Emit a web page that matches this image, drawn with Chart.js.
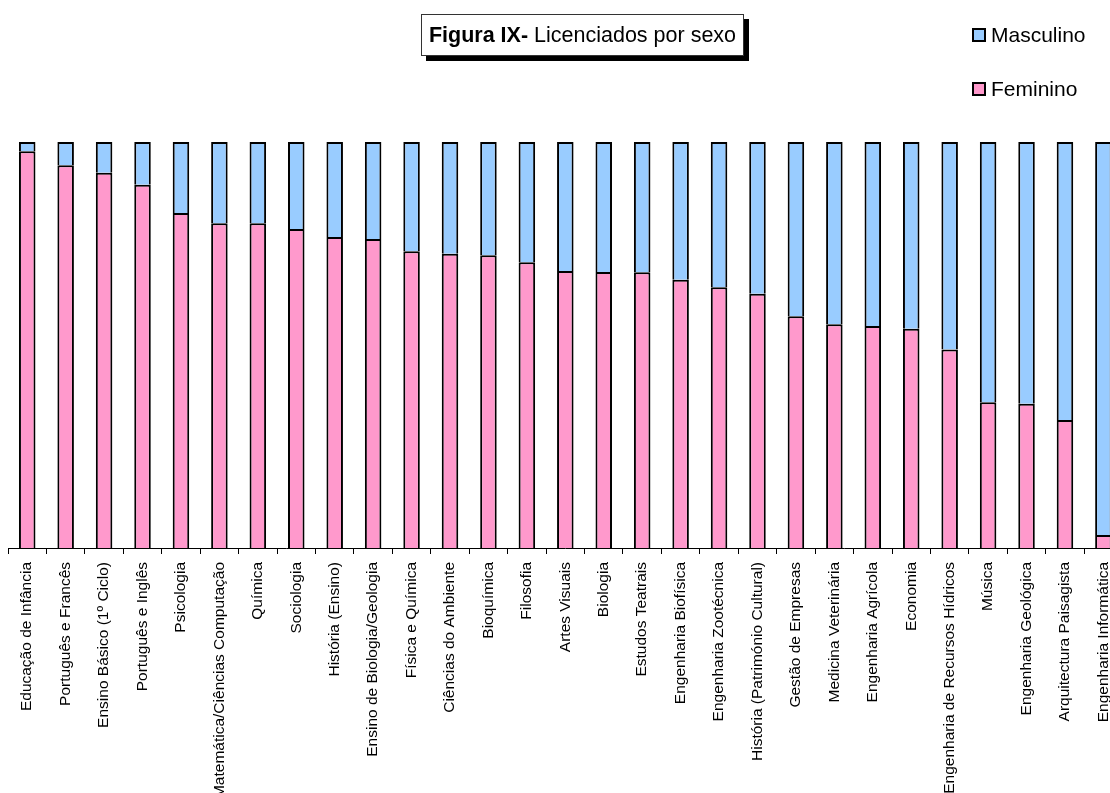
<!DOCTYPE html>
<html>
<head>
<meta charset="utf-8">
<script src="https://cdn.jsdelivr.net/npm/chart.js@4.4.1/dist/chart.umd.min.js"></script>
<style>
  html, body { margin: 0; padding: 0; background: #fff; overflow: hidden; }
  #wrap { width: 1110px; height: 793px; overflow: hidden; position: relative; }
</style>
</head>
<body>
<div id="wrap"><canvas id="licChart" width="1130" height="793"></canvas></div>
<script>
var cursos = [
  'Educação de Infância', 'Português e Francês', 'Ensino Básico (1º Ciclo)', 'Português e Inglês',
  'Psicologia', 'Matemática/Ciências Computação', 'Química', 'Sociologia', 'História (Ensino)',
  'Ensino de Biologia/Geologia', 'Física e Química', 'Ciências do Ambiente', 'Bioquímica',
  'Filosofia', 'Artes Visuais', 'Biologia', 'Estudos Teatrais', 'Engenharia Biofísica',
  'Engenharia Zootécnica', 'História (Património Cultural)', 'Gestão de Empresas',
  'Medicina Veterinária', 'Engenharia Agrícola', 'Economia', 'Engenharia de Recursos Hídricos',
  'Música', 'Engenharia Geológica', 'Arquitectura Paisagista', 'Engenharia Informática'
];

// percentagens de licenciados por sexo
var feminino = [
  97.7, 94.3, 92.4, 89.5, 82.5, 80.0, 80.0, 78.6, 76.6, 76.1,
  73.1, 72.5, 72.1, 70.4, 68.2, 68.0, 67.9, 66.1, 64.2, 62.6,
  57.1, 55.1, 54.7, 54.0, 48.9, 35.9, 35.5, 31.5, 3.2
];
var masculino = [
  2.3, 5.7, 7.6, 10.5, 17.5, 20.0, 20.0, 21.4, 23.4, 23.9,
  26.9, 27.5, 27.9, 29.6, 31.8, 32.0, 32.1, 33.9, 35.8, 37.4,
  42.9, 44.9, 45.3, 46.0, 51.1, 64.1, 64.5, 68.5, 96.8
];

var fonte = "'Liberation Sans', Arial, sans-serif";

// caixa do título com sombra
var tituloCaixa = {
  id: 'tituloCaixa',
  afterDraw: function(chart) {
    var c = chart.ctx;
    var x = 421, y = 14, w = 323, h = 42;
    c.save();
    c.fillStyle = '#000';
    c.fillRect(x + 5, y + 5, w, h);
    c.fillStyle = '#fff';
    c.fillRect(x, y, w, h);
    c.strokeStyle = '#333';
    c.lineWidth = 1;
    c.strokeRect(x + 0.5, y + 0.5, w - 1, h - 1);

    var parte1 = 'Figura IX-', parte2 = ' Licenciados por sexo';
    c.font = 'bold 21.5px ' + fonte;
    var w1 = c.measureText(parte1).width;
    c.font = '21.5px ' + fonte;
    var w2 = c.measureText(parte2).width;
    var x0 = x + (w - w1 - w2) / 2;
    c.textBaseline = 'middle';
    c.textAlign = 'left';
    c.fillStyle = '#000';
    c.font = 'bold 21.5px ' + fonte;
    c.fillText(parte1, x0, y + h / 2 + 1);
    c.font = '21.5px ' + fonte;
    c.fillText(parte2, x0 + w1, y + h / 2 + 1);
    c.restore();
  }
};

// legenda à direita, Masculino em cima
var legendaLateral = {
  id: 'legendaLateral',
  afterDraw: function(chart) {
    var c = chart.ctx;
    var sets = chart.data.datasets.slice().reverse();
    c.save();
    c.font = '21px ' + fonte;
    c.textBaseline = 'middle';
    c.textAlign = 'left';
    sets.forEach(function(ds, i) {
      var cy = 35 + i * 54;
      c.fillStyle = ds.backgroundColor;
      c.fillRect(973, cy - 6, 12, 12);
      c.strokeStyle = '#000';
      c.lineWidth = 2;
      c.strokeRect(973, cy - 6, 12, 12);
      c.fillStyle = '#000';
      c.fillText(ds.label, 991, cy + 1);
    });
    c.restore();
  }
};

new Chart(document.getElementById('licChart').getContext('2d'), {
  type: 'bar',
  data: {
    labels: cursos,
    datasets: [{
      label: 'Feminino',
      data: feminino,
      backgroundColor: '#FF99CC',
      borderColor: '#000',
      borderWidth: 2,
      barPercentage: 0.43,
      categoryPercentage: 1
    }, {
      label: 'Masculino',
      data: masculino,
      backgroundColor: '#99CCFF',
      borderColor: '#000',
      borderWidth: 2,
      barPercentage: 0.43,
      categoryPercentage: 1
    }]
  },
  options: {
    responsive: false,
    animation: false,
    layout: { padding: { top: 142, left: 8, right: 0, bottom: 0 } },
    plugins: {
      legend: { display: false },
      title: { display: false },
      tooltip: { enabled: false }
    },
    scales: {
      x: {
        stacked: true,
        offset: true,
        grid: { drawOnChartArea: false, drawTicks: true, tickLength: 6, color: '#000', offset: true },
        border: { display: true, color: '#000', width: 1 },
        ticks: {
          autoSkip: false,
          maxRotation: 90,
          minRotation: 90,
          padding: 8,
          color: '#000',
          font: { family: fonte, size: 15.5 }
        },
        afterFit: function(scale) { scale.height = 245; }
      },
      y: { stacked: true, display: false, min: 0, max: 100 }
    }
  },
  plugins: [tituloCaixa, legendaLateral]
});
</script>
</body>
</html>
